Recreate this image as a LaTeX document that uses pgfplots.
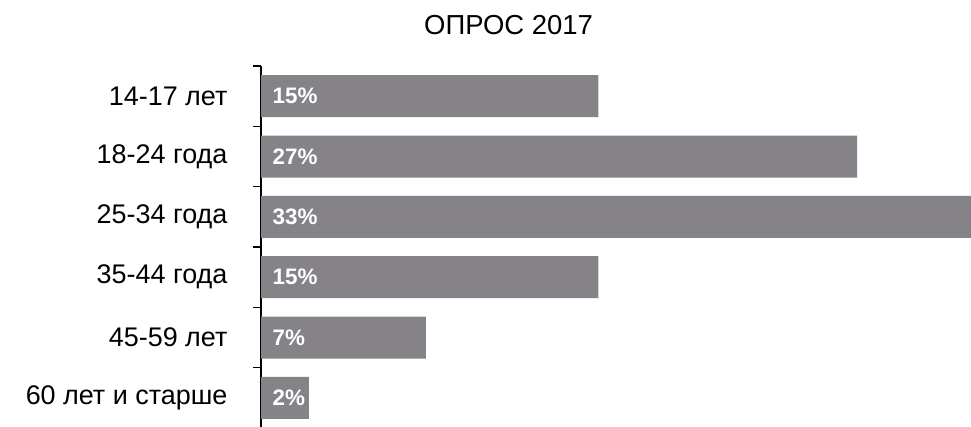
\documentclass[border=0pt]{standalone}
\usepackage{fontspec}
\setmainfont{Liberation Sans}
\usepackage{pgfplots}
\pgfplotsset{compat=1.18}
\definecolor{bargray}{HTML}{858388}
\begin{document}
\begin{tikzpicture}
\path[use as bounding box] (0,0) rectangle (728.25pt,319.5pt);
\node[font=\fontsize{20.6}{23}\selectfont, text=black, anchor=base, inner sep=0pt] at (381.4pt,294pt) {ОПРОС 2017};
\begin{axis}[
  at={(195.75pt,-1.5pt)}, anchor=south west,
  scale only axis, width=532.5pt, height=271.5pt,
  xmin=0, xmax=31.56, ymin=-0.5, ymax=5.5, y dir=reverse,
  axis x line=none, axis y line*=left,
  axis line style={black, line width=0.8pt},
  ytick={0,1,2,3,4,5},
  yticklabels={14-17 лет,18-24 года,25-34 года,35-44 года,45-59 лет,60 лет и старше},
  major tick length=0pt,
  minor ytick={-0.5,0.5,1.5,2.5,3.5,4.5},
  minor tick length=6pt, tick align=outside,
  minor tick style={black, line width=0.8pt},
  yticklabel style={font=\fontsize{20.2}{23}\selectfont, inner sep=0pt, xshift=-25pt, anchor=east},
]
\addplot[xbar, bar width=31.5pt, fill=bargray, draw=none] coordinates {
 (15,0) (26.5,1) (33,2) (15,3) (7.33,4) (2.13,5)
};
\addplot[draw=none, mark=none, nodes near coords, point meta=explicit symbolic,
  nodes near coords style={anchor=west, inner sep=0pt, xshift=8.5pt, text=white, font=\bfseries\fontsize{16.8}{19}\selectfont}]
 table[meta=lab] {
 x y lab
 0 0 15\%
 0 1 27\%
 0 2 33\%
 0 3 15\%
 0 4 7\%
 0 5 2\%
};
\end{axis}
\end{tikzpicture}
\end{document}
